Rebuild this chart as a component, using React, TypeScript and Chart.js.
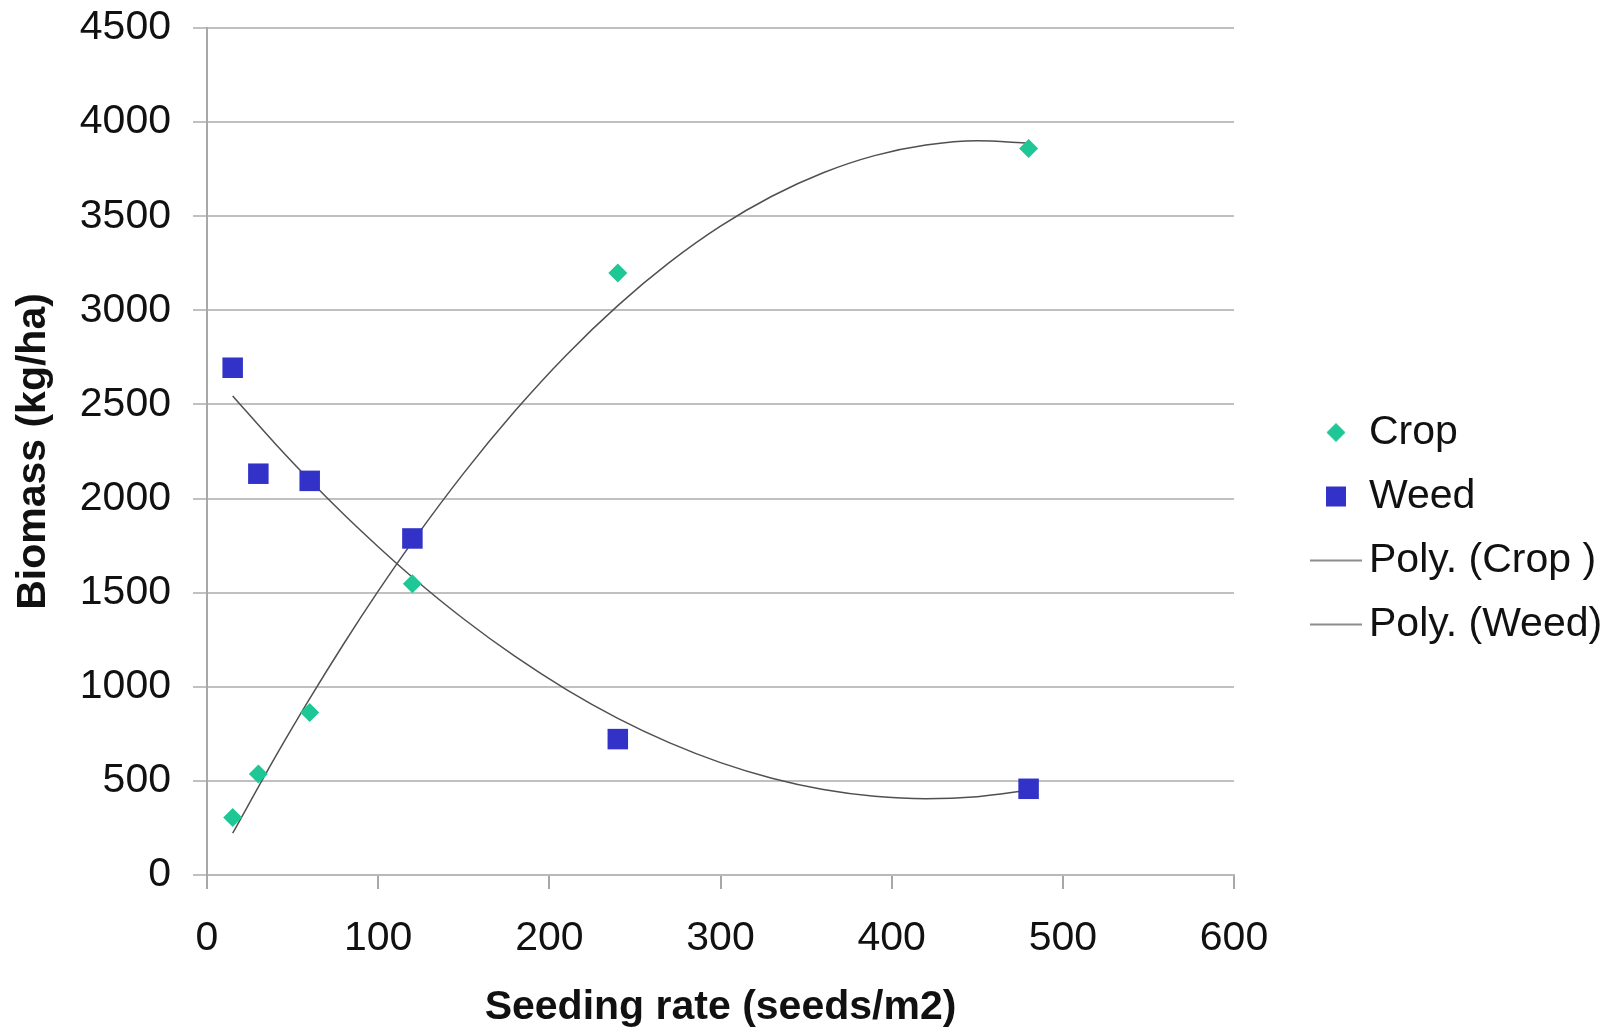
import React, { useEffect, useRef } from 'react';
import { Chart, registerables } from 'chart.js';

Chart.register(...registerables);

// ---- data ----
const seedingRates = [15, 30, 60, 120, 240, 480];
const cropBiomass = [306, 536, 864, 1547, 3198, 3860];
const weedBiomass = [2695, 2132, 2094, 1788, 722, 458];

// points
const trendX = [15, 40, 60, 80, 100, 120, 150, 180, 210, 240, 270, 300, 330, 360, 390, 420, 450, 480];
const cropTrend = [222, 629, 937, 1230, 1508, 1770, 2135, 2466, 2763, 3025, 3253, 3447, 3606, 3731, 3822, 3878, 3901, 3888];
const weedTrend = [2545, 2290, 2097, 1915, 1744, 1582, 1360, 1161, 985, 832, 703, 597, 514, 454, 418, 405, 416, 450];

const seriesLabels = ['Crop', 'Weed', 'Poly. (Crop )', 'Poly. (Weed)'];
const xAxisTitle = 'Seeding rate (seeds/m2)';
const yAxisTitle = 'Biomass (kg/ha)';
const xRange = [0, 600];
const yRange = [0, 4500];
const xStep = 100;
const yStep = 500;

const CROP_COLOR = '#1fc796';
const WEED_COLOR = '#3232c8';
const TREND_COLOR = '#505050';
const FONT = "'Liberation Sans', Arial, sans-serif";

function makeIcon(kind: string): HTMLCanvasElement {
  const c = document.createElement('canvas');
  if (kind === 'line') {
    c.width = 52; c.height = 4;
    const g = c.getContext('2d')!;
    g.strokeStyle = '#666'; g.lineWidth = 1.6;
    g.beginPath(); g.moveTo(0, 2); g.lineTo(52, 2); g.stroke();
    return c;
  }
  c.width = 22; c.height = 22;
  const g = c.getContext('2d')!;
  if (kind === 'diamond') {
    g.fillStyle = CROP_COLOR;
    g.beginPath(); g.moveTo(11, 1.5); g.lineTo(20.5, 11); g.lineTo(11, 20.5); g.lineTo(1.5, 11); g.closePath(); g.fill();
  } else {
    g.fillStyle = WEED_COLOR;
    g.fillRect(1, 1, 20, 20);
  }
  return c;
}

const legendShift = {
  id: 'legendShift',
  afterLayout(chart: any) {
    const lg = chart.legend;
    if (lg) {
      lg.left += 66.5;
      lg.right += 66.5;
    }
  },
};

export default function App() {
  const ref = useRef<HTMLCanvasElement>(null);
  useEffect(() => {
    const icons = [makeIcon('diamond'), makeIcon('square'), makeIcon('line'), makeIcon('line')];
    const chart = new Chart(ref.current!, {
      type: 'scatter',
      data: {
        datasets: [
          {
            label: seriesLabels[0],
            data: seedingRates.map((x, i) => ({ x, y: cropBiomass[i] })),
            pointStyle: 'rectRot',
            pointRadius: 9.5,
            backgroundColor: CROP_COLOR,
            borderColor: CROP_COLOR,
            borderWidth: 0,
          },
          {
            label: seriesLabels[1],
            data: seedingRates.map((x, i) => ({ x, y: weedBiomass[i] })),
            pointStyle: 'rect',
            pointRadius: 14.5,
            backgroundColor: WEED_COLOR,
            borderColor: WEED_COLOR,
            borderWidth: 0,
          },
          {
            label: seriesLabels[2],
            type: 'line',
            data: trendX.map((x, i) => ({ x, y: cropTrend[i] })),
            showLine: true,
            pointRadius: 0,
            borderColor: TREND_COLOR,
            borderWidth: 1.5,
            tension: 0.4,
            cubicInterpolationMode: 'monotone',
            fill: false,
          },
          {
            label: seriesLabels[3],
            type: 'line',
            data: trendX.map((x, i) => ({ x, y: weedTrend[i] })),
            showLine: true,
            pointRadius: 0,
            borderColor: TREND_COLOR,
            borderWidth: 1.5,
            tension: 0.4,
            cubicInterpolationMode: 'monotone',
            fill: false,
          },
        ],
      } as any,
      options: {
        animation: false,
        responsive: false,
        layout: { padding: { top: 28, left: 0, right: 0, bottom: 0 } },
        plugins: {
          tooltip: { enabled: false },
          legend: {
            position: 'right',
            align: 'center',
            labels: {
              usePointStyle: true,
              boxWidth: 25,
              boxHeight: 41,
              padding: 23,
              color: '#111',
              font: { family: FONT, size: 41 },
              generateLabels: (ch: any) => {
                const items = Chart.defaults.plugins.legend.labels.generateLabels(ch);
                return items.map((it: any, i: number) => ({ ...it, pointStyle: icons[i], lineWidth: 0 }));
              },
            },
          },
        },
        scales: {
          x: {
            type: 'linear',
            min: xRange[0],
            max: xRange[1],
            ticks: { stepSize: xStep, color: '#111', padding: 25, font: { family: FONT, size: 41 }, callback: (v: any) => String(v) },
            grid: { display: true, drawOnChartArea: false, drawTicks: true, tickLength: 14, color: '#a8a8a8', lineWidth: 2 },
            border: { display: true, color: '#b8b8b8', width: 2 },
            title: { display: true, text: xAxisTitle, color: '#111', padding: { top: 18, bottom: -3 }, font: { family: FONT, size: 41, weight: 'bold' } },
            afterFit: (s: any) => { s.height = 154; s.paddingRight = 380; },
          },
          y: {
            type: 'linear',
            min: yRange[0],
            max: yRange[1],
            ticks: { stepSize: yStep, color: '#111', padding: 22, font: { family: FONT, size: 41 }, callback: (v: any) => String(v) },
            grid: { display: true, drawOnChartArea: true, drawTicks: true, tickLength: 14, color: '#c0c0c0', lineWidth: 2 },
            border: { display: true, color: '#a8a8a8', width: 2 },
            title: { display: true, text: yAxisTitle, color: '#111', padding: { top: 9, bottom: 21 }, font: { family: FONT, size: 41, weight: 'bold' } },
            afterFit: (s: any) => { s.width = 207; s.paddingTop = 0; s.paddingBottom = 0; },
          },
        },
      } as any,
      plugins: [legendShift],
    });
    return () => chart.destroy();
  }, []);
  return (
    <div style={{ position: 'absolute', left: 0, top: 0, width: 1614, height: 1029, background: '#fff' }}>
      <canvas ref={ref} width={1614} height={1029} style={{ display: 'block' }} />
    </div>
  );
}
